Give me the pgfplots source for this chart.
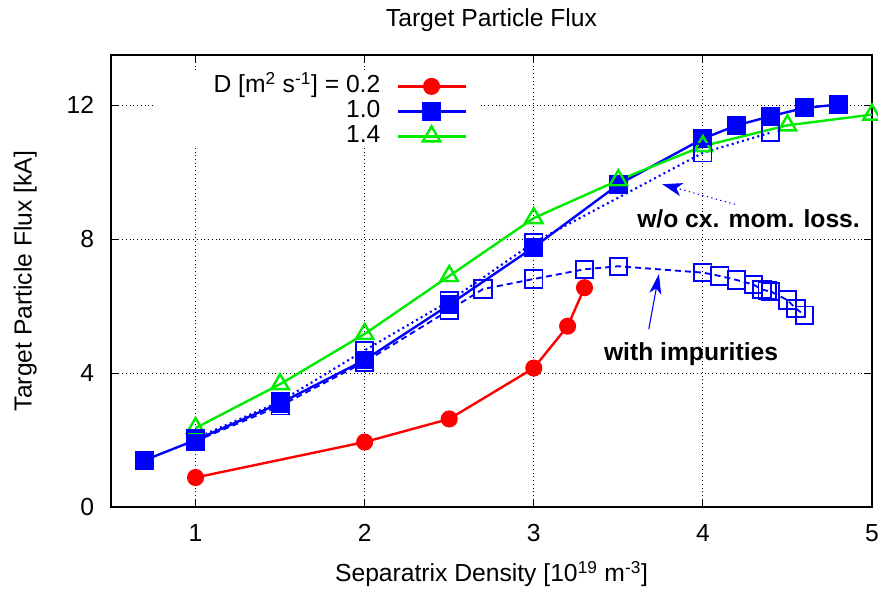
\documentclass[border=0pt]{standalone}
\usepackage{pgfplots}
\pgfplotsset{compat=1.18}
\usepackage{fontspec}
\setmainfont{Liberation Sans}
\usetikzlibrary{arrows.meta}
\definecolor{gred}{RGB}{255,0,0}
\definecolor{gblue}{RGB}{0,0,255}
\definecolor{ggreen}{RGB}{0,235,0}
\newcommand\F{\fontsize{18.5pt}{22pt}\selectfont}
\begin{document}
\begin{tikzpicture}
\begin{axis}[
  scale only axis, width=570.75pt, height=339pt,
  xmin=0.5, xmax=5, ymin=0, ymax=13.5,
  xtick={1,2,3,4,5}, ytick={0,4,8,12},
  tick align=inside, major tick length=6pt,
  axis line style={line width=1pt},
  every tick/.style={black, line width=0.8pt},
  grid=major, major grid style={black, line width=0.6pt, dash pattern=on 0.6pt off 2.2pt},
  /pgf/number format/assume math mode=true,
  tick label style={font=\F},
  xticklabel style={anchor=base, yshift=-25.5pt, inner sep=0pt},
  yticklabel style={anchor=east, inner sep=0pt, xshift=-12.5pt},
  title={Target Particle Flux},
  every axis title/.style={font=\F, at={([yshift=21.2pt]axis description cs:0.5,1)}, anchor=base},
  xlabel={Separatrix Density [10\textsuperscript{19} m\textsuperscript{-3}]},
  every axis x label/.style={font=\F, at={([yshift=-56pt]axis description cs:0.5,0)}, anchor=base},
  ylabel={Target Particle Flux [kA]},
  every axis y label/.style={font=\F, at={([xshift=-59.5pt]axis description cs:0,0.5)}, rotate=90, anchor=base},
  legend plot pos=right, legend cell align=right,
  legend style={at={(axis description cs:0.4678,0.957)}, anchor=north east, draw=none, fill=none, font=\F, inner sep=0pt, row sep=1.25pt, nodes={inner sep=0pt, text height=13.5pt, text depth=4pt}},
  legend image code/.code={\path (-12pt,0pt); \draw[mark repeat=2,mark phase=2] plot coordinates {(0pt,0pt)(25.5pt,0pt)(51pt,0pt)};},
]
\fill[white] (axis cs:0.769,10.75) rectangle (axis cs:2.686,13.02);
\addplot[gred, line width=1.8pt, mark=*, mark size=5.5pt] coordinates {
(1,0.88) (2,1.94) (2.5,2.63) (3,4.15) (3.2,5.4) (3.3,6.55)};
\addlegendentry{D [m\textsuperscript{2} s\textsuperscript{-1}] = 0.2}
\addplot[gblue, line width=1.8pt, mark=square*, mark size=6.2pt] coordinates {
(0.7,1.4) (1,2.0) (1.5,3.1) (2,4.39) (2.5,6.04) (3,7.76) (3.5,9.63) (4,11.0) (4.2,11.4) (4.4,11.67) (4.6,11.92) (4.8,12.02)};
\addlegendentry{1.0}
\addplot[ggreen, line width=1.8pt, mark=triangle, mark size=7.5pt] coordinates {
(1,2.36) (1.5,3.67) (2,5.17) (2.5,6.9) (3,8.63) (3.5,9.76) (4,10.78) (4.5,11.4) (5,11.72)};
\addlegendentry{1.4}
\addplot[gblue, line width=1.6pt, dash pattern=on 1.5pt off 2.5pt, mark=square, mark size=6.5pt, mark options={solid, line width=1.4pt}, forget plot] coordinates {
(1,2.05) (1.5,3.15) (2,4.68) (2.5,6.15) (3,7.9) (4,10.58) (4.4,11.18)};
\addplot[gblue, line width=1.4pt, dash pattern=on 4.5pt off 3pt, mark=square, mark size=6.5pt, mark options={solid, line width=1.4pt}, forget plot] coordinates {
(1,1.97) (1.5,3.02) (2,4.33) (2.5,5.88) (2.7,6.51) (3,6.81) (3.3,7.1) (3.5,7.19) (4,7.0) (4.1,6.9) (4.2,6.78) (4.3,6.64) (4.35,6.49) (4.38,6.46) (4.4,6.44) (4.5,6.18) (4.55,5.93) (4.6,5.73)};
\draw[gblue, line width=0.8pt, dash pattern=on 1pt off 2.5pt, -{Stealth[length=15pt, width=10pt, inset=4pt]}] (axis cs:4.19,9.04) -- (axis cs:3.76,9.64);
\draw[gblue, line width=0.8pt, -{Stealth[length=15pt, width=9pt, inset=4pt]}] (axis cs:3.68,5.31) -- (axis cs:3.74,6.96);
\node[font=\F\bfseries] at (axis cs:4.27,8.6) {w/o cx. mom. loss.};
\node[font=\F\bfseries] at (axis cs:3.93,4.57) {with impurities};
\end{axis}
\pgfresetboundingbox
\useasboundingbox (-83.25pt,-62.25pt) rectangle (575.25pt,380.25pt);
\end{tikzpicture}
\end{document}
